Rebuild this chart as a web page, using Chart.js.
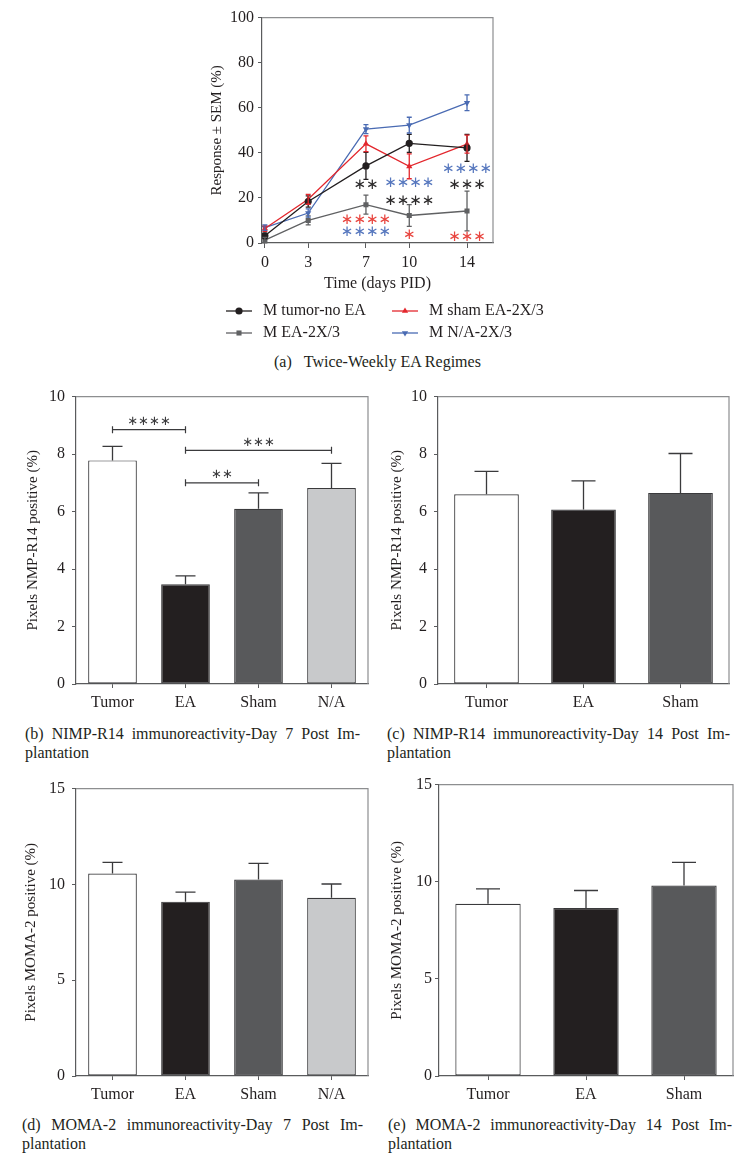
<!DOCTYPE html>
<html>
<head>
<meta charset="utf-8">
<script src="https://cdn.jsdelivr.net/npm/chart.js@4.4.1/dist/chart.umd.min.js"></script>
<style>
  body { margin: 0; background: #fff; }
  #page { position: relative; width: 748px; height: 1165px; font-family: 'Liberation Serif', serif; color: #231f20; }
  canvas { position: absolute; }
  .cap { position: absolute; font-size: 16px; line-height: 19px; white-space: nowrap; }
  .just { white-space: normal; text-align: justify; text-align-last: justify; }
</style>
</head>
<body>
<div id="page">
  <canvas id="chartA" width="400" height="345" style="left:180px;top:4px;width:400px;height:345px"></canvas>
  <div class="cap" style="left:274px;top:352px">(a)&nbsp;&nbsp;&nbsp;Twice-Weekly EA Regimes</div>

  <canvas id="chartB" width="372" height="340" style="left:0px;top:380px;width:372px;height:340px"></canvas>
  <canvas id="chartC" width="376" height="340" style="left:372px;top:380px;width:376px;height:340px"></canvas>
  <div class="cap just" style="left:25px;top:724px;width:335px">(b) NIMP-R14 immunoreactivity-Day 7 Post Im-</div>
  <div class="cap" style="left:25px;top:743px">plantation</div>
  <div class="cap just" style="left:387px;top:724px;width:343px">(c) NIMP-R14 immunoreactivity-Day 14 Post Im-</div>
  <div class="cap" style="left:387px;top:743px">plantation</div>

  <canvas id="chartD" width="372" height="340" style="left:0px;top:772px;width:372px;height:340px"></canvas>
  <canvas id="chartE" width="376" height="340" style="left:372px;top:772px;width:376px;height:340px"></canvas>
  <div class="cap just" style="left:22px;top:1115px;width:341px">(d) MOMA-2 immunoreactivity-Day 7 Post Im-</div>
  <div class="cap" style="left:22px;top:1134px">plantation</div>
  <div class="cap just" style="left:388px;top:1115px;width:344px">(e) MOMA-2 immunoreactivity-Day 14 Post Im-</div>
  <div class="cap" style="left:388px;top:1134px">plantation</div>
</div>
<script>
// panel (a): response over time
const days = [0, 3, 7, 10, 14];
const tumorNoEA = [3.2, 18.4, 34.2, 44.2, 42.2];
const tumorNoEAErr = [1.2, 2.5, 6, 4, 6];
const eaTwice = [1.3, 10, 17, 12.2, 14.2];
const eaTwiceErr = [1.2, 2, 4.2, 4.8, 8.8];
const shamTwice = [6.4, 19.4, 44, 34, 43.9];
const shamTwiceErr = [1.2, 2.2, 3.5, 5.5, 4];
const naTwice = [6.8, 13.3, 50.5, 52.3, 62.2];
const naTwiceErr = [1.2, 1.8, 2, 3.5, 3.5];
const responseTicks = [0, 20, 40, 60, 80, 100];

// significance marks on (a), by comparison group
const sigTumor = [{ day: 7, level: 25.5, stars: '∗∗' }, { day: 10, level: 18.7, stars: '∗∗∗∗' }, { day: 14, level: 25.7, stars: '∗∗∗' }];
const sigSham = [{ day: 7, level: 10, stars: '∗∗∗∗' }, { day: 10, level: 3.5, stars: '∗' }, { day: 14, level: 2.6, stars: '∗∗∗' }];
const sigNA = [{ day: 7, level: 4.7, stars: '∗∗∗∗' }, { day: 10, level: 26.5, stars: '∗∗∗∗' }, { day: 14, level: 32.6, stars: '∗∗∗∗' }];

// bar panels
const groups4 = ['Tumor', 'EA', 'Sham', 'N/A'];
const groups3 = ['Tumor', 'EA', 'Sham'];
const nimpDay7 = [7.78, 3.47, 6.1, 6.82];
const nimpDay7Err = [0.49, 0.29, 0.55, 0.86];
const nimpDay14 = [6.6, 6.07, 6.65];
const nimpDay14Err = [0.8, 1.0, 1.37];
const momaDay7 = [10.57, 9.1, 10.25, 9.3];
const momaDay7Err = [0.58, 0.5, 0.85, 0.72];
const momaDay14 = [8.87, 8.65, 9.8];
const momaDay14Err = [0.76, 0.9, 1.2];
const nimpDay7Brackets = [
  { from: 0, to: 1, level: 8.85, stars: '∗∗∗∗' },
  { from: 1, to: 3, level: 8.13, stars: '∗∗∗' },
  { from: 1, to: 2, level: 7.0, stars: '∗∗' }
];

Chart.defaults.font.family = "'Liberation Serif', serif";
Chart.defaults.font.size = 16;
Chart.defaults.color = '#231f20';
Chart.defaults.animation = false;

const AXIS = '#5a5b5d';
const FRAME = '#8d8e90';
const BAR_COLORS = ['#ffffff', '#231f20', '#58595b', '#c8c9cb'];

// error bars from each dataset's errors array
const errorBars = {
  id: 'errorBars',
  afterDatasetsDraw(chart) {
    const ctx = chart.ctx;
    const ys = chart.scales.y;
    chart.data.datasets.forEach((ds, di) => {
      if (!ds.errors) return;
      const meta = chart.getDatasetMeta(di);
      ctx.save();
      ctx.strokeStyle = ds.errorColor || ds.borderColor;
      ctx.lineWidth = 1.3;
      meta.data.forEach((el, i) => {
        const raw = ds.data[i];
        const v = typeof raw === 'object' ? raw.y : raw;
        const top = ys.getPixelForValue(v + ds.errors[i]);
        const bot = ds.errorUpOnly ? el.y : ys.getPixelForValue(v - ds.errors[i]);
        const half = ds.capHalf || 3;
        ctx.beginPath();
        ctx.moveTo(el.x, bot); ctx.lineTo(el.x, top);
        ctx.moveTo(el.x - half, top); ctx.lineTo(el.x + half, top);
        if (!ds.errorUpOnly) { ctx.moveTo(el.x - half, bot); ctx.lineTo(el.x + half, bot); }
        ctx.stroke();
      });
      ctx.restore();
    });
  }
};

// light top/right frame around plot
const frame = {
  id: 'frame',
  beforeDatasetsDraw(chart) {
    const { ctx, chartArea: a } = chart;
    ctx.save();
    ctx.strokeStyle = FRAME;
    ctx.lineWidth = 1.2;
    ctx.beginPath();
    ctx.moveTo(a.left, a.top); ctx.lineTo(a.right, a.top); ctx.lineTo(a.right, a.bottom);
    ctx.stroke();
    ctx.restore();
  }
};

// asterisks and brackets
const sigMarks = {
  id: 'sigMarks',
  afterDatasetsDraw(chart, args, opts) {
    const ctx = chart.ctx;
    const xs = chart.scales.x, ys = chart.scales.y;
    ctx.save();
    ctx.font = opts.font;
    ctx.textAlign = 'center';
    ctx.textBaseline = 'middle';
    (opts.groups || []).forEach(g => {
      ctx.fillStyle = g.color;
      g.marks.forEach(m => ctx.fillText(m.stars, xs.getPixelForValue(m.day), ys.getPixelForValue(m.level)));
    });
    (opts.brackets || []).forEach(b => {
      const x1 = xs.getPixelForValue(b.from), x2 = xs.getPixelForValue(b.to);
      const y = ys.getPixelForValue(b.level);
      ctx.strokeStyle = '#3a3a3c';
      ctx.lineWidth = 1.2;
      ctx.beginPath();
      ctx.moveTo(x1, y); ctx.lineTo(x2, y);
      ctx.moveTo(x1, y - 3.5); ctx.lineTo(x1, y + 3.5);
      ctx.moveTo(x2, y - 3.5); ctx.lineTo(x2, y + 3.5);
      ctx.stroke();
      ctx.fillStyle = '#3a3a3c';
      ctx.fillText(b.stars, (x1 + x2) / 2, y - 8);
    });
    ctx.restore();
  }
};

// 2x2 legend under panel (a)
const lineLegend = {
  id: 'lineLegend',
  afterDraw(chart, args, opts) {
    const ctx = chart.ctx;
    opts.items.forEach(it => {
      const ds = chart.data.datasets[it.index];
      ctx.save();
      ctx.strokeStyle = ds.borderColor;
      ctx.lineWidth = ds.borderWidth;
      ctx.beginPath(); ctx.moveTo(it.x, it.y); ctx.lineTo(it.x + 26, it.y); ctx.stroke();
      ctx.fillStyle = ds.pointBackgroundColor;
      Chart.helpers.drawPoint(ctx, { pointStyle: ds.pointStyle, radius: ds.pointRadius, rotation: ds.pointRotation || 0, borderWidth: 0 }, it.x + 13, it.y);
      ctx.fillStyle = '#231f20';
      ctx.font = "16px 'Liberation Serif'";
      ctx.textBaseline = 'middle';
      ctx.fillText(ds.label, it.x + 37, it.y);
      ctx.restore();
    });
  }
};

function lineSet(label, vals, errs, color, style, rotation) {
  return {
    label: label,
    data: days.map((d, i) => ({ x: d, y: vals[i] })),
    errors: errs,
    borderColor: color,
    backgroundColor: color,
    pointBackgroundColor: color,
    pointBorderWidth: 0,
    pointStyle: style,
    pointRotation: rotation || 0,
    pointRadius: 3.6,
    borderWidth: 1.3,
    capHalf: 2.5
  };
}

new Chart(document.getElementById('chartA'), {
  type: 'line',
  data: {
    datasets: [
      lineSet('M tumor-no EA', tumorNoEA, tumorNoEAErr, '#231f20', 'circle'),
      lineSet('M EA-2X/3', eaTwice, eaTwiceErr, '#606163', 'rect'),
      lineSet('M sham EA-2X/3', shamTwice, shamTwiceErr, '#e3272d', 'triangle'),
      lineSet('M N/A-2X/3', naTwice, naTwiceErr, '#4a6bb3', 'triangle', 180)
    ]
  },
  options: {
    responsive: false,
    layout: { padding: { top: 9, right: 87, bottom: 56, left: 0 } },
    plugins: {
      legend: { display: false },
      tooltip: { enabled: false },
      sigMarks: {
        font: "15px 'DejaVu Sans'",
        groups: [
          { color: '#2d2b2c', marks: sigTumor },
          { color: '#e8453f', marks: sigSham },
          { color: '#5677be', marks: sigNA }
        ]
      },
      lineLegend: {
        items: [
          { index: 0, x: 46, y: 307 },
          { index: 2, x: 212, y: 307 },
          { index: 1, x: 46, y: 329 },
          { index: 3, x: 212, y: 329 }
        ]
      }
    },
    scales: {
      x: {
        type: 'linear', min: -0.2, max: 15.8,
        afterBuildTicks: s => { s.ticks = days.map(v => ({ value: v })); },
        afterFit: s => { s.height = 50; },
        grid: { drawOnChartArea: false, tickLength: 5, color: AXIS },
        border: { color: AXIS, width: 1.2 },
        ticks: { padding: 5, font: { size: 16 } },
        title: { display: true, text: 'Time (days PID)', font: { size: 16 }, padding: { top: 0, bottom: 0 } }
      },
      y: {
        min: 0, max: 100,
        afterBuildTicks: s => { s.ticks = responseTicks.map(v => ({ value: v })); },
        afterFit: s => { s.width = 82; },
        grid: { drawOnChartArea: false, tickLength: 4, color: AXIS },
        border: { color: AXIS, width: 1.2 },
        ticks: { padding: 4, font: { size: 16 } },
        title: { display: true, text: 'Response ± SEM (%)', font: { size: 15 }, padding: { top: 28, bottom: 0 } }
      }
    }
  },
  plugins: [frame, errorBars, sigMarks, lineLegend]
});

function barChart(id, labels, values, errs, opts) {
  return new Chart(document.getElementById(id), {
    type: 'bar',
    data: {
      labels: labels,
      datasets: [{
        data: values,
        errors: errs,
        errorUpOnly: true,
        errorColor: '#3a3a3c',
        capHalf: opts.capHalf,
        backgroundColor: BAR_COLORS.slice(0, labels.length),
        borderColor: '#3a3a3c',
        borderWidth: 1.2,
        borderSkipped: false,
        barPercentage: 0.667,
        categoryPercentage: 1
      }]
    },
    options: {
      responsive: false,
      layout: { padding: { top: opts.top, right: opts.right, bottom: 0, left: 0 } },
      plugins: {
        legend: { display: false },
        tooltip: { enabled: false },
        sigMarks: { font: "13px 'DejaVu Sans'", brackets: opts.brackets || [] }
      },
      scales: {
        x: {
          afterFit: s => { s.height = 36; },
          grid: { drawOnChartArea: false, offset: false, tickLength: 4, color: AXIS },
          border: { color: AXIS, width: 1.2 },
          ticks: { padding: 5, font: { size: 16 } }
        },
        y: {
          min: 0, max: opts.max,
          ticks: { stepSize: opts.step, padding: opts.tickPad, font: { size: 16 } },
          afterFit: s => { s.width = opts.yWidth; },
          grid: { drawOnChartArea: false, tickLength: 4, color: AXIS },
          border: { color: AXIS, width: 1.2 },
          title: { display: true, text: opts.title, font: { size: 15 }, padding: { top: opts.titlePad, bottom: 0 } }
        }
      }
    },
    plugins: [frame, errorBars, sigMarks]
  });
}

barChart('chartB', groups4, nimpDay7, nimpDay7Err, {
  top: 12, right: 4, yWidth: 76, max: 10, step: 2, tickPad: 7, titlePad: 24, capHalf: 10,
  title: 'Pixels NMP-R14 positive (%)', brackets: nimpDay7Brackets
});
barChart('chartC', groups3, nimpDay14, nimpDay14Err, {
  top: 13, right: 19, yWidth: 66, max: 10, step: 2, tickPad: 7, titlePad: 16, capHalf: 12,
  title: 'Pixels NMP-R14 positive (%)'
});
barChart('chartD', groups4, momaDay7, momaDay7Err, {
  top: 12, right: 4, yWidth: 76, max: 15, step: 5, tickPad: 7, titlePad: 22, capHalf: 10,
  title: 'Pixels MOMA-2 positive (%)'
});
barChart('chartE', groups3, momaDay14, momaDay14Err, {
  top: 12, right: 15, yWidth: 67, max: 15, step: 5, tickPad: 3, titlePad: 16, capHalf: 12,
  title: 'Pixels MOMA-2 positive (%)'
});
</script>
</body>
</html>
